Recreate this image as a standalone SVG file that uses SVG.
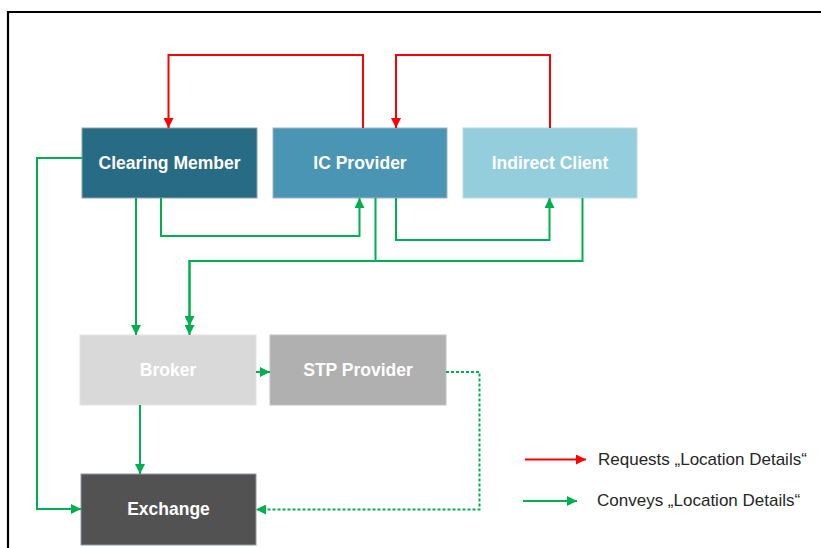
<svg xmlns="http://www.w3.org/2000/svg" width="821" height="548" viewBox="0 0 821 548">
<style>
.lbl{font-family:"Liberation Sans",Arial,sans-serif;font-weight:bold;font-size:17.5px;fill:#ffffff;text-anchor:middle}
.leg{font-family:"Liberation Sans",Arial,sans-serif;font-size:17px;fill:#262626}
.r{fill:none;stroke:#ff0000;stroke-width:2}
.g{fill:none;stroke:#00b050;stroke-width:2}
.d{fill:none;stroke:#00b050;stroke-width:2;stroke-dasharray:3 2}
.box{stroke-width:1}
</style>
<defs>
<marker id="ar" viewBox="0 0 10 10" refX="10" refY="5" markerWidth="5" markerHeight="5" markerUnits="strokeWidth" orient="auto"><path d="M0,0 L10,5 L0,10 z" fill="#ff0000"/></marker>
<marker id="ag" viewBox="0 0 10 10" refX="10" refY="5" markerWidth="5" markerHeight="5" markerUnits="strokeWidth" orient="auto"><path d="M0,0 L10,5 L0,10 z" fill="#00b050"/></marker>
</defs>
<rect width="821" height="548" fill="#ffffff"/>
<path d="M8,548 L8,12 L821,12" fill="none" stroke="#000" stroke-width="2.2"/>

<g id="clearing-member"><rect class="box" x="82" y="128" width="175" height="70" fill="#286b84" stroke="#8aa3b0"/><text class="lbl" x="169.5" y="169">Clearing Member</text></g>
<g id="ic-provider"><rect class="box" x="273" y="128" width="174" height="70" fill="#4a95b4" stroke="#9ab7c6"/><text class="lbl" x="360" y="169">IC Provider</text></g>
<g id="indirect-client"><rect class="box" x="463" y="128" width="174" height="70" fill="#94cddb" stroke="#b8dde6"/><text class="lbl" x="550" y="169">Indirect Client</text></g>
<g id="broker"><rect class="box" x="80" y="335" width="176" height="70" fill="#d9d9d9" stroke="#e3e3e3"/><text class="lbl" x="168" y="376">Broker</text></g>
<g id="stp-provider"><rect class="box" x="270" y="335" width="176" height="70" fill="#b0b0b0" stroke="#c2c2c2"/><text class="lbl" x="358" y="376">STP Provider</text></g>
<g id="exchange"><rect class="box" x="81" y="474" width="175" height="71" fill="#525252" stroke="#8e9aa3"/><text class="lbl" x="168.5" y="515">Exchange</text></g>

<g id="connectors">
<path class="r" d="M363,128 L363,55 L168.5,55 L168.5,128" marker-end="url(#ar)"/>
<path class="r" d="M550,128 L550,55 L396,55 L396,128" marker-end="url(#ar)"/>
<path class="g" d="M82,158 L37,158 L37,509 L81,509" marker-end="url(#ag)"/>
<path class="g" d="M136,198 L136,335" marker-end="url(#ag)"/>
<path class="g" d="M161,198 L161,236 L359.5,236 L359.5,198" marker-end="url(#ag)"/>
<path class="g" d="M396,198 L396,240 L549.5,240 L549.5,198" marker-end="url(#ag)"/>
<path class="g" d="M582.5,198 L582.5,261 L189.5,261 L189.5,326" marker-end="url(#ag)"/>
<path class="g" d="M375.5,198 L375.5,261 L189.5,261 L189.5,335" marker-end="url(#ag)"/>
<path class="g" d="M256,372 L270,372" marker-end="url(#ag)"/>
<path class="g" d="M140,405 L140,474" marker-end="url(#ag)"/>
<path class="d" d="M446,372 L479.5,372 L479.5,509.5 L256,509.5" marker-end="url(#ag)"/>
</g>

<g id="legend">
<path class="r" d="M525,459.5 L586,459.5" marker-end="url(#ar)"/>
<text class="leg" x="598" y="464.5">Requests „Location Details“</text>
<path class="g" d="M523,501 L577,501" marker-end="url(#ag)"/>
<text class="leg" x="597" y="506">Conveys „Location Details“</text>
</g>
</svg>
